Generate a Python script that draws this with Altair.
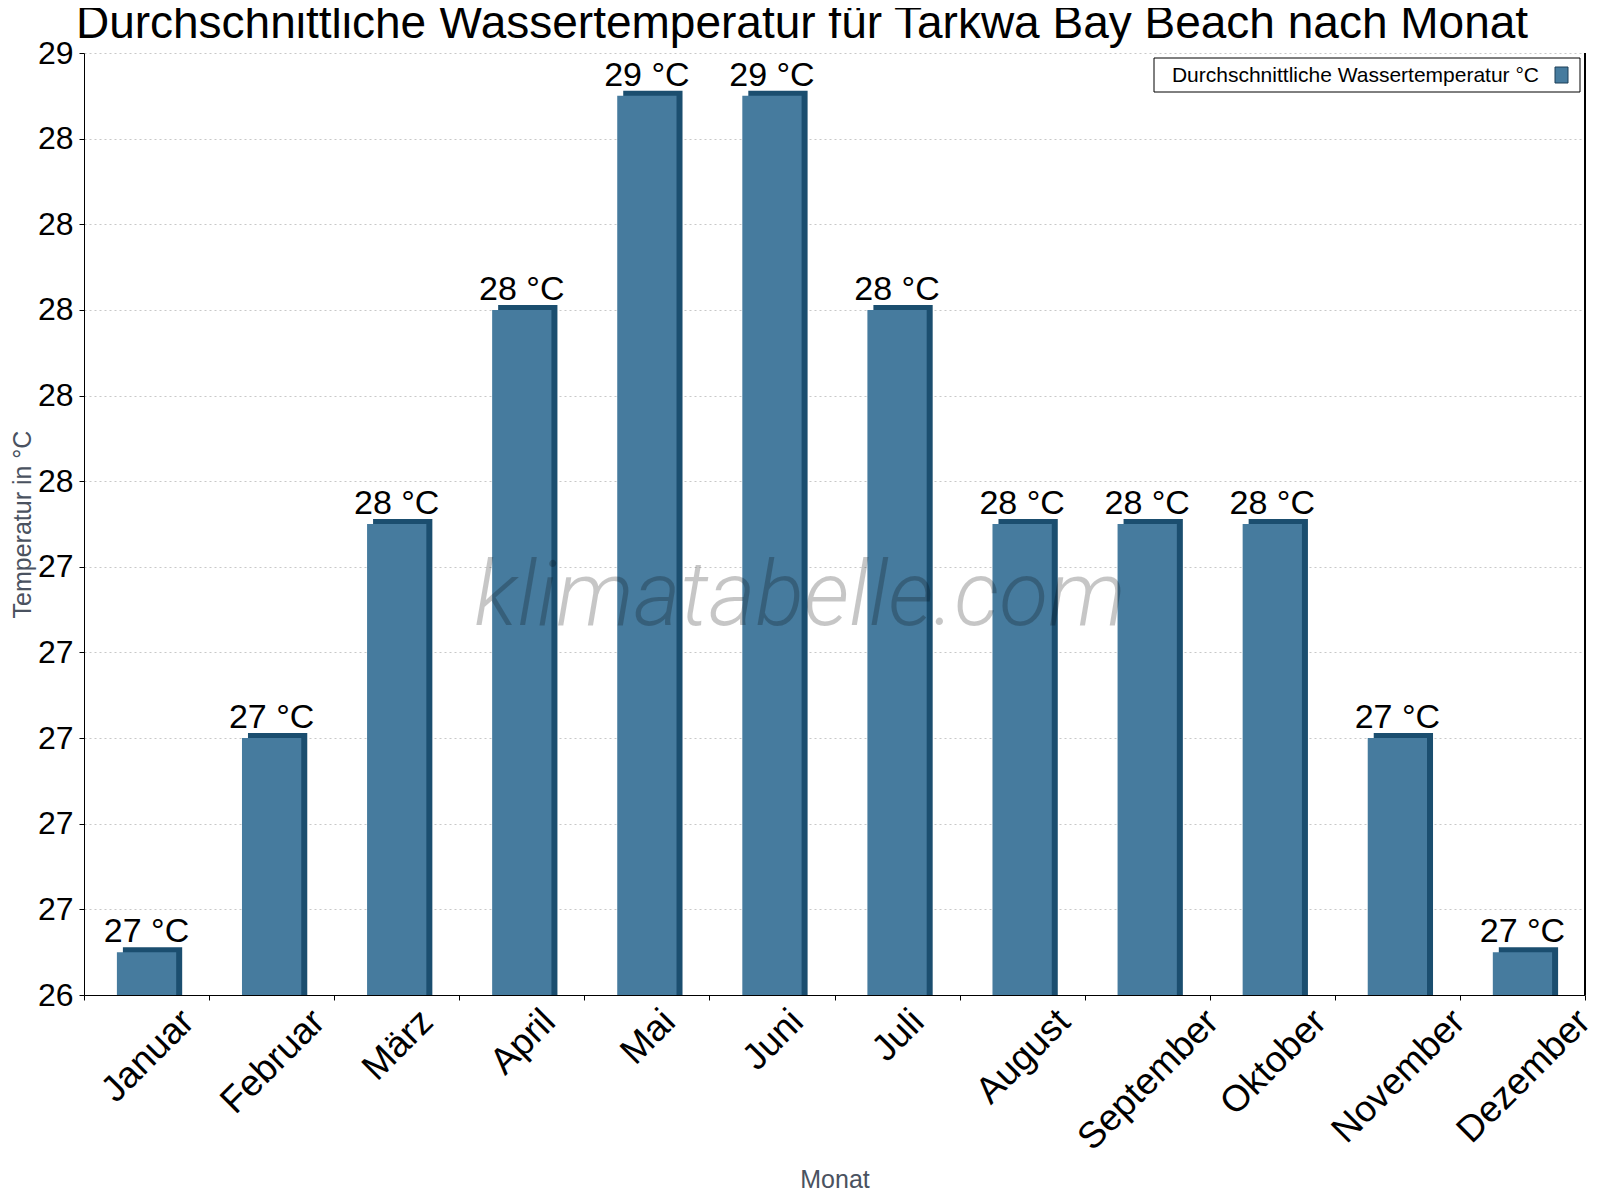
import pandas as pd
import altair as alt

# Daten
MONATE = ["Januar", "Februar", "März", "April", "Mai", "Juni", "Juli",
          "August", "September", "Oktober", "November", "Dezember"]
WASSERTEMP = [26.5, 27.0, 27.5, 28.0, 28.5, 28.5, 28.0, 27.5, 27.5, 27.5, 27.0, 26.5]
Y_DOMAIN = [26.4, 28.6]
Y_TICKS = [26.4, 26.6, 26.8, 27.0, 27.2, 27.4, 27.6, 27.8, 28.0, 28.2, 28.4, 28.6]
TITEL = "Durchschnittliche Wassertemperatur für Tarkwa Bay Beach nach Monat"
SERIE = "Durchschnittliche Wassertemperatur °C"
WASSERZEICHEN = "klimatabelle.com"

# Farben / Schrift
FRONT = "#467b9e"
SEITE = "#1b4e6f"
GRAU = "#4a5260"
FONT = "Liberation Sans"

W, H = 1501, 942
LABEL_SIZE = 37
BAR_BAND = 0.474

# Arial-Breiten (1/1000 em) fuer die gedrehten Monatsnamen
ARIAL_W = {"J": 500, "a": 556, "n": 556, "u": 556, "r": 333, "F": 611, "e": 556,
           "b": 556, "M": 833, "ä": 556, "z": 500, "A": 667, "p": 556, "i": 222,
           "l": 222, "g": 556, "s": 500, "t": 278, "S": 667, "m": 833, "O": 778,
           "k": 500, "o": 556, "v": 500, "N": 722, "D": 722}


def text_shift(name):
    # verschiebt den gedrehten Text so, dass er unter dem Balken zentriert ist
    w = sum(ARIAL_W.get(c, 556) for c in name) * LABEL_SIZE / 1000
    return (w + 0.716 * LABEL_SIZE) / 4


df = pd.DataFrame({"Monat": MONATE, "Temperatur": WASSERTEMP})
df["shift"] = [text_shift(m) for m in MONATE]

x_scale = alt.Scale(domain=MONATE, paddingInner=0, paddingOuter=0)
y_scale = alt.Scale(domain=Y_DOMAIN, zero=False, nice=False)

x_axis = alt.Axis(labels=False, tickBand="extent", tickSize=5, tickColor="black",
                  domainColor="black", title="Monat", titleFont=FONT,
                  titleFontSize=25, titleFontWeight="normal", titleColor=GRAU,
                  titlePadding=167)
y_axis = alt.Axis(values=Y_TICKS, format=".0f", labelFont=FONT, labelFontSize=32,
                  labelColor="black", labelPadding=6, labelFlush=False,
                  tickSize=5, tickColor="black", domainColor="black",
                  grid=True, gridColor="#c8c8c8", gridDash=[2, 3],
                  title="Temperatur in °C", titleFont=FONT, titleFontSize=25,
                  titleFontWeight="normal", titleColor=GRAU, titlePadding=2)

base = alt.Chart(df)

# dunkle Seiten- und Deckflaeche (3D-Effekt)
seite = base.mark_bar(color=SEITE, xOffset=6, yOffset=-5,
                      width=alt.RelativeBandSize(BAR_BAND)).encode(
    x=alt.X("Monat:N", sort=MONATE, scale=x_scale, axis=x_axis),
    y=alt.Y("Temperatur:Q", scale=y_scale, axis=y_axis),
    y2=alt.datum(Y_DOMAIN[0]),
)

front = base.mark_bar(color=FRONT, width=alt.RelativeBandSize(BAR_BAND)).encode(
    x=alt.X("Monat:N", sort=MONATE, scale=x_scale),
    y=alt.Y("Temperatur:Q", scale=y_scale),
    y2=alt.datum(Y_DOMAIN[0]),
)

werte = base.transform_calculate(
    txt="format(datum.Temperatur, '.0f') + ' °C'"
).mark_text(font=FONT, fontSize=34, color="black", baseline="alphabetic", dy=-10).encode(
    x=alt.X("Monat:N", sort=MONATE, scale=x_scale),
    y=alt.Y("Temperatur:Q", scale=y_scale),
    text="txt:N",
)

monat_labels = base.mark_text(
    font=FONT, fontSize=LABEL_SIZE, color="black", angle=315, align="right",
    baseline="alphabetic", dx=alt.ExprRef(expr="datum.shift"),
    dy=alt.ExprRef(expr="datum.shift"),
).encode(
    x=alt.X("Monat:N", sort=MONATE, scale=x_scale),
    y=alt.value(H + 29),
    text="Monat:N",
)

rahmen_rechts = base.mark_rule(color="black", strokeWidth=1).encode(
    x=alt.value(W), y=alt.value(0), y2=alt.value(H)
)

titel = alt.Chart(pd.DataFrame({"t": [TITEL]})).mark_text(
    font=FONT, fontSize=46, color="black", align="center", baseline="alphabetic"
).encode(x=alt.value(718), y=alt.value(-15), text="t:N")

wz = alt.Chart(pd.DataFrame({"t": [WASSERZEICHEN]})).mark_text(
    font="Roboto", fontSize=90, fontStyle="italic", fontWeight=300,
    color="black", opacity=0.22, align="center", baseline="alphabetic",
).encode(x=alt.value(716), y=alt.value(572), text="t:N")

leg_df = pd.DataFrame({"label": [SERIE]})
leg_box = alt.Chart(leg_df).mark_rect(fill="white", stroke="black", strokeWidth=1).encode(
    x=alt.value(1070), x2=alt.value(1496), y=alt.value(5), y2=alt.value(39)
)
leg_text = alt.Chart(leg_df).mark_text(
    font=FONT, fontSize=21, color="black", align="right", baseline="alphabetic"
).encode(x=alt.value(1455), y=alt.value(29), text="label:N")
leg_swatch = alt.Chart(leg_df).mark_rect(fill=FRONT, stroke="#1c3f57", strokeWidth=1).encode(
    x=alt.value(1471), x2=alt.value(1484), y=alt.value(14), y2=alt.value(30)
)

chart = alt.layer(
    seite, front, werte, monat_labels, rahmen_rechts, titel, wz,
    leg_box, leg_text, leg_swatch
).properties(
    width=W,
    height=H,
    background="white",
    autosize=alt.AutoSizeParams(type="none"),
    padding={"left": 76, "top": 45, "right": 7, "bottom": 197},
).configure_view(stroke=None)

chart.save("out.html", embed_options={"renderer": "svg", "actions": False})
